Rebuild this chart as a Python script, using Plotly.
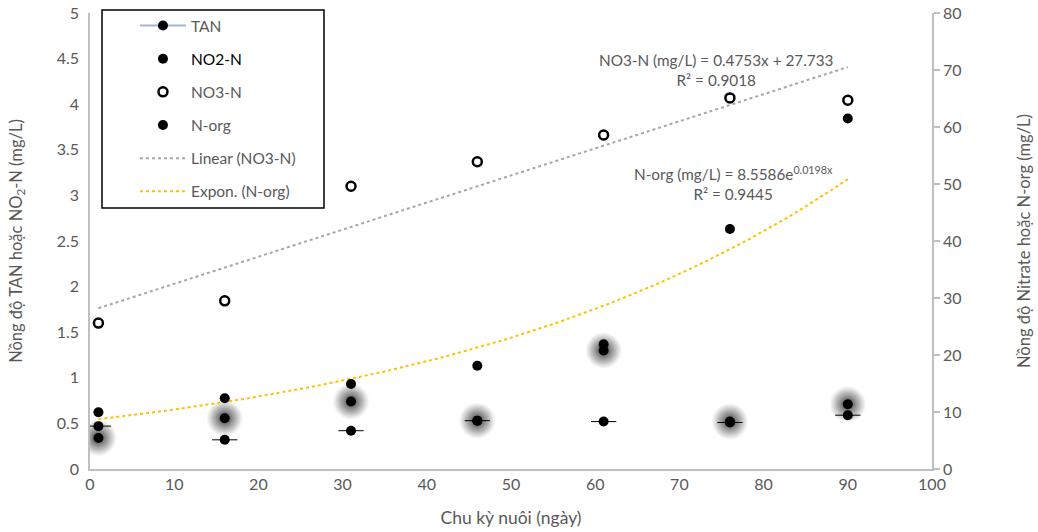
import numpy as np
import plotly.graph_objects as go

# ---- data ----
days = [1, 16, 31, 46, 61, 76, 90]
tan = [0.47, 0.32, 0.42, 0.53, 0.52, 0.51, 0.59]          # left axis
no2 = [0.34, 0.556, 0.74, 0.53, 1.30, 0.52, 0.71]         # left axis
no3 = [25.6, 29.5, 49.6, 53.9, 58.6, 65.1, 64.7]          # right axis
norg = [9.95, 12.4, 14.9, 18.1, 21.9, 42.1, 61.5]         # right axis

lin_slope, lin_icpt = 0.4753, 27.733
exp_a, exp_b = 8.5586, 0.0198
x_ticks = list(range(0, 101, 10))
y1_ticks = [0, 0.5, 1, 1.5, 2, 2.5, 3, 3.5, 4, 4.5, 5]
y2_ticks = list(range(0, 81, 10))

FONT = "Lato"
GRAY = "#595959"
AXIS = "#bfbfbf"

fig = go.Figure()

xt = np.linspace(min(days), max(days), 100)

# trendlines
fig.add_trace(go.Scatter(x=xt, y=lin_slope * xt + lin_icpt, mode="lines", yaxis="y2",
                         name="Linear (NO3-N)", legendgroup="g5", legendrank=5,
                         line=dict(color="#a6a6a6", width=2, dash="dot")))
fig.add_trace(go.Scatter(x=xt, y=exp_a * np.exp(exp_b * xt), mode="lines", yaxis="y2",
                         name="Expon. (N-org)", legendgroup="g6", legendrank=6,
                         line=dict(color="#ffc000", width=2, dash="dot")))

# soft glow around NO2-N markers
for i in range(14):
    sz = 36 - i * 2
    op = 0.03 + i * 0.004
    fig.add_trace(go.Scatter(x=days, y=no2, mode="markers", showlegend=False, hoverinfo="skip",
                             marker=dict(size=sz, color=f"rgba(0,0,0,{op:.3f})", line=dict(width=0))))

# TAN with short horizontal bars
fig.add_trace(go.Scatter(x=days, y=tan, mode="markers", showlegend=False, name="TAN",
                         marker=dict(size=10, color="black"),
                         error_x=dict(type="constant", value=1.5, color="black", thickness=1, width=0)))
fig.add_trace(go.Scatter(x=[None], y=[None], mode="lines+markers", name="TAN",
                         legendgroup="g1", legendrank=1,
                         line=dict(color="#9fb6dd", width=2), marker=dict(size=10, color="black")))
fig.add_trace(go.Scatter(x=days, y=no2, mode="markers", name="<span style='color:black'>NO2-N</span>",
                         legendgroup="g2", legendrank=2,
                         marker=dict(size=10, color="black")))
fig.add_trace(go.Scatter(x=days, y=no3, mode="markers", name="NO3-N", yaxis="y2",
                         legendgroup="g3", legendrank=3,
                         marker=dict(size=9, color="white", line=dict(color="black", width=2.5))))
fig.add_trace(go.Scatter(x=days, y=norg, mode="markers", name="N-org", yaxis="y2",
                         legendgroup="g4", legendrank=4,
                         marker=dict(size=10, color="black")))

fig.add_annotation(x=74.4, y=66.4, xref="x", yref="y2", xanchor="center", yanchor="bottom",
                   text="NO3-N (mg/L) = 0.4753x + 27.733<br>R² = 0.9018", showarrow=False,
                   font=dict(family=FONT, size=15.3, color=GRAY), align="center")
fig.add_annotation(x=76.4, y=46.4, xref="x", yref="y2", xanchor="center", yanchor="bottom",
                   text="N-org (mg/L) = 8.5586e<sup>0.0198x</sup><br>R² = 0.9445", showarrow=False,
                   font=dict(family=FONT, size=15.3, color=GRAY), align="center")

# legend frame
fig.add_shape(type="rect", xref="paper", yref="paper", x0=0.01425, x1=0.2779, y0=0.5724, y1=1.0066,
              line=dict(color="black", width=1.5), fillcolor="white", layer="above")

fig.update_layout(
    width=1038, height=532,
    margin=dict(l=90, r=106, t=13, b=63, autoexpand=False),
    paper_bgcolor="white", plot_bgcolor="white",
    font=dict(family=FONT, size=15, color=GRAY),
    xaxis=dict(range=[0, 100], tickvals=x_ticks, showgrid=False, zeroline=False,
               showline=True, linecolor=AXIS, linewidth=1.5, ticks="", automargin=False,
               tickfont=dict(size=16, color=GRAY), ticklabeloverflow="allow",
               title=dict(text="Chu kỳ nuôi (ngày)", font=dict(size=17.5, color=GRAY), standoff=20)),
    yaxis=dict(range=[0, 5], tickvals=y1_ticks, showgrid=False, zeroline=False,
               showline=True, linecolor=AXIS, linewidth=1.5, ticks="", automargin=False,
               tickfont=dict(size=16, color=GRAY), ticklabelstandoff=6, ticklabeloverflow="allow",
               title=dict(text="Nồng độ TAN hoặc NO<sub>2</sub>-N (mg/L)", font=dict(size=16.5, color=GRAY), standoff=30)),
    yaxis2=dict(range=[0, 80], tickvals=y2_ticks, overlaying="y", side="right", showgrid=False,
                zeroline=False, showline=True, linecolor=AXIS, linewidth=1.5, automargin=False,
                ticks="outside", ticklen=6, tickcolor=AXIS, tickwidth=1.5, ticklabeloverflow="allow",
                tickfont=dict(size=16, color=GRAY),
                title=dict(text="Nồng độ Nitrate hoặc N-org (mg/L)", font=dict(size=16.5, color=GRAY), standoff=58)),
    legend=dict(x=0.0534, y=1.0088, xanchor="left", yanchor="top", bgcolor="rgba(0,0,0,0)",
                borderwidth=0, traceorder="grouped", tracegroupgap=10,
                itemwidth=46, font=dict(family=FONT, size=15.5, color=GRAY)),
    showlegend=True,
)

fig.write_html("out.html", config={"displayModeBar": False},
               post_script="document.body.style.margin='0';")
